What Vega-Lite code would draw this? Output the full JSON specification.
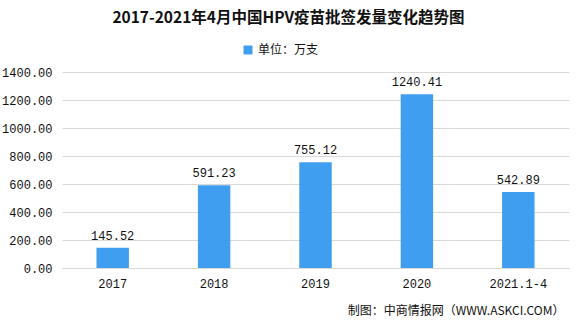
{
  "$schema": "https://vega.github.io/schema/vega-lite/v6.json",
  "width": 507,
  "height": 196,
  "autosize": {"type": "none"},
  "padding": {"left": 62, "top": 72, "right": 12, "bottom": 59},
  "background": "white",
  "title": {
    "text": "2017-2021年4月中国HPV疫苗批签发量变化趋势图",
    "font": "Noto Sans CJK SC",
    "fontSize": 15.5,
    "fontWeight": "bold",
    "color": "#111111",
    "anchor": "middle",
    "dx": -27,
    "offset": 18
  },
  "data": {
    "values": [
      {"year": "2017", "value": 145.52, "series": "单位：万支"},
      {"year": "2018", "value": 591.23, "series": "单位：万支"},
      {"year": "2019", "value": 755.12, "series": "单位：万支"},
      {"year": "2020", "value": 1240.41, "series": "单位：万支"},
      {"year": "2021.1-4", "value": 542.89, "series": "单位：万支"}
    ]
  },
  "encoding": {
    "x": {
      "field": "year",
      "type": "nominal",
      "sort": null,
      "scale": {"paddingInner": 0.68, "paddingOuter": 0.34},
      "axis": {
        "title": "制图：中商情报网（WWW.ASKCI.COM）",
        "titleFont": "Noto Sans CJK SC",
        "titleFontSize": 12,
        "titleFontWeight": "normal",
        "titleColor": "#111111",
        "titleAnchor": "end",
        "titleAlign": "right",
        "titlePadding": 16,
        "titleX": 502,
        "labelAngle": 0,
        "labelFont": "Liberation Mono",
        "labelFontSize": 12,
        "labelColor": "#111111",
        "labelPadding": 10,
        "ticks": false,
        "domainColor": "#d9d9d9",
        "grid": false
      }
    },
    "y": {
      "field": "value",
      "type": "quantitative",
      "scale": {"domain": [0, 1400], "nice": false},
      "axis": {
        "title": null,
        "values": [0, 200, 400, 600, 800, 1000, 1200, 1400],
        "format": ".2f",
        "labelFont": "Liberation Mono",
        "labelFontSize": 12,
        "labelColor": "#111111",
        "labelPadding": 10,
        "ticks": false,
        "domain": false,
        "gridColor": "#d9d9d9",
        "gridWidth": 1
      }
    }
  },
  "layer": [
    {
      "mark": {"type": "bar", "color": "#409EF0"},
      "encoding": {
        "color": {
          "field": "series",
          "type": "nominal",
          "scale": {"range": ["#409EF0"]},
          "legend": {
            "title": null,
            "orient": "none",
            "legendX": 180,
            "legendY": -28,
            "symbolType": "square",
            "symbolSize": 80,
            "labelFont": "Noto Sans CJK SC",
            "labelFontSize": 12,
            "labelColor": "#111111"
          }
        }
      }
    },
    {
      "mark": {"type": "text", "dy": -12, "font": "Liberation Mono", "fontSize": 12, "color": "#111111"},
      "encoding": {
        "text": {"field": "value", "type": "quantitative", "format": ".2f"}
      }
    }
  ],
  "config": {"view": {"stroke": null}}
}
